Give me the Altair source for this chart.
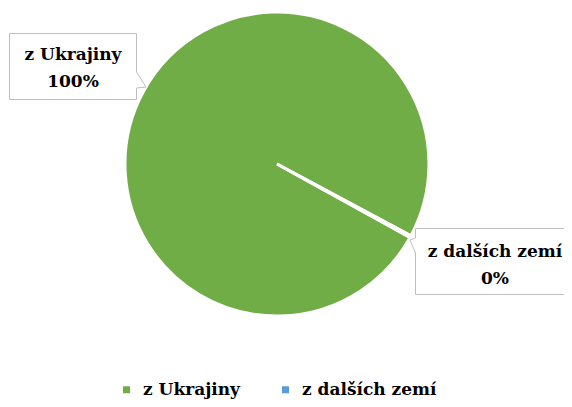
import altair as alt
import pandas as pd

names = ["z Ukrajiny", "z dalších zemí"]
values = [100.0, 0.2]
colors = ["#70AD47", "#5B9BD5"]
order_idx = [0, 1]

df = pd.DataFrame({"name": names, "value": values, "idx": order_idx})

FONT = "DejaVu Serif"
FS = 17
start = 2.075
TAU = 6.283185307179586

base = alt.Chart(df).transform_joinaggregate(total="sum(value)").transform_calculate(
    share="datum.value / datum.total",
    label="datum.name + '\\n' + format(datum.value / datum.total, '.0%')",
)

pie = base.mark_arc(outerRadius=152, stroke="white", strokeWidth=3).encode(
    theta=alt.Theta("value:Q", stack=True, scale=alt.Scale(range=[start, start + TAU])),
    color=alt.Color(
        "name:N",
        scale=alt.Scale(domain=names, range=colors),
        sort=names,
        title=None,
        legend=alt.Legend(
            orient="none",
            legendX=110,
            legendY=373,
            direction="horizontal",
            symbolType="square",
            symbolSize=49,
            symbolStrokeWidth=0,
            labelFont=FONT,
            labelFontSize=FS,
            labelFontWeight="bold",
            labelColor="black",
            labelOffset=8,
            columnPadding=37,
            padding=0,
            labelLimit=300,
        ),
    ),
    order=alt.Order("idx:Q"),
    x=alt.value(269),
    y=alt.value(156),
)

box_style = dict(size=4, filled=True, fill="white", stroke="#BFBFBF", strokeWidth=1, opacity=1)
box1 = alt.Chart(df).transform_filter(alt.datum.idx == 0).mark_point(
    shape="M1.5,25.5L128.5,25.5L128.5,64L138,79L128.5,80L128.5,91.5L1.5,91.5Z", **box_style
).encode(x=alt.value(0), y=alt.value(0))
box2 = alt.Chart(df).transform_filter(alt.datum.idx == 1).mark_point(
    shape="M407.5,220.5L562.5,220.5L562.5,286.5L407.5,286.5L407.5,245L402,232L407.5,230Z", **box_style
).encode(x=alt.value(0), y=alt.value(0))

text_style = dict(font=FONT, fontSize=FS, fontWeight="bold", color="black",
                  lineBreak="\n", lineHeight=27, baseline="alphabetic", align="center")
t1 = base.transform_filter(alt.datum.idx == 0).mark_text(**text_style).encode(
    text="label:N", x=alt.value(65), y=alt.value(52))
t2 = base.transform_filter(alt.datum.idx == 1).mark_text(**text_style).encode(
    text="label:N", x=alt.value(487), y=alt.value(249))

chart = alt.layer(pie, box1, box2, t1, t2).properties(
    width=556, height=391, padding=0, autosize=alt.AutoSizeParams(type="none")
).configure_view(strokeWidth=0)

chart.save("out.html", embed_options={"renderer": "svg", "actions": False})
